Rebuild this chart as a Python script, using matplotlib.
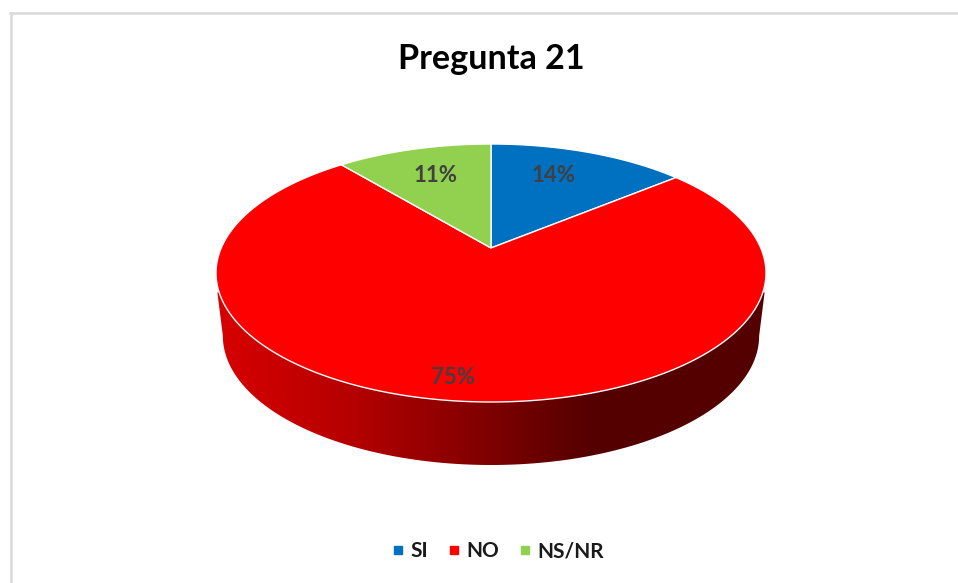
import numpy as np
import matplotlib
matplotlib.use("Agg")
import matplotlib.pyplot as plt
from matplotlib.colors import LinearSegmentedColormap
from matplotlib.lines import Line2D
from matplotlib.patches import Polygon

categories = ["SI", "NO", "NS/NR"]
values = [14, 75, 11]
colors = ["#0070C0", "#FF0000", "#92D050"]
title = "Pregunta 21"

W, H = 958, 583
# pixel layout of the pie top
LEFT, RIGHT, TOP, BOTTOM = 216, 766, 144, 402
TILT = 0.194        # perspective shift of the centre
DEPTH = 63 / 129    # wall height in axes units
SHRINK = 0.975      # bottom rim is a bit narrower
YMIN = -1.6         # axes run on below the top so the wall fits
LABEL_POS = [(554, 176), (453, 378), (436, 176)]

plt.rcParams['font.family'] = ['Lato', 'DejaVu Sans']


def warp(x, y):
    # perspective map of the unit disc onto itself
    d = 1 + TILT * y
    return x * np.sqrt(1 - TILT ** 2) / d, (y + TILT) / d


fig = plt.figure(figsize=(W / 100, H / 100), dpi=100)
unit = (BOTTOM - TOP) / 2
ax = fig.add_axes([LEFT / W, 1 - (BOTTOM + (-1 - YMIN) * unit) / H,
                   (RIGHT - LEFT) / W, (BOTTOM - TOP + (-1 - YMIN) * unit) / H])
wedges, _ = ax.pie(values, colors=colors, startangle=90, counterclock=False, radius=1)
ax.set_aspect('auto')

# side wall, gradient clipped to the rim
t = np.linspace(np.pi, 2 * np.pi, 300)
xr = SHRINK * np.cos(t)
yr = np.sin(t) - DEPTH
wall = np.column_stack([np.r_[-0.995, xr, 0.995], np.r_[-0.15, yr, -0.15]])
clip = Polygon(wall, transform=ax.transData, fc='none', ec='none')
ax.add_patch(clip)
cmap = LinearSegmentedColormap.from_list('wall', [
    (0.0, '#D80000'), (0.25, '#B40000'), (0.5, '#7E0000'),
    (0.68, '#550000'), (1.0, '#550000')])
im = ax.imshow(np.linspace(0, 1, 256)[None, :], cmap=cmap, extent=(-1, 1, YMIN, 0),
               aspect='auto', zorder=1)
im.set_clip_path(clip)
ax.set_xlim(-1, 1)
ax.set_ylim(YMIN, 1)

# redraw the wedges through the perspective map
for w, c in zip(wedges, colors):
    th = np.radians(np.linspace(w.theta1, w.theta2, 200))
    px, py = warp(w.r * np.cos(th), w.r * np.sin(th))
    cx, cy = warp(0.0, 0.0)
    w.set_visible(False)
    ax.add_patch(Polygon(np.column_stack([np.r_[cx, px], np.r_[cy, py]]), closed=True,
                         fc=c, ec='white', lw=1.0, zorder=2, clip_on=False))

for v, (lx, ly) in zip(values, LABEL_POS):
    fig.text(lx / W, 1 - ly / H, f"{v}%", color='#404040', fontsize=16, fontweight='bold',
             ha='center', va='center')

fig.text(491 / W, 1 - 59 / H, title, color='black', fontsize=24.6, fontweight='bold',
         ha='center', va='center')

handles = [Line2D([], [], ls='none', marker='s', ms=5.2, mfc=c, mec=c) for c in colors]
fig.legend(handles, categories, loc='center', bbox_to_anchor=(498 / W, 1 - 551 / H), ncol=3,
           frameon=False, handlelength=0.6, handletextpad=0.3,
           columnspacing=0.95, prop={'weight': 'bold', 'size': 15}, labelcolor='#1a1a1a')

# chart frame: only the top and left edges are in the crop
fig.add_artist(Line2D([11 / W, 11 / W], [0, 1 - 13 / H], color='#D9D9D9', lw=1.8))
fig.add_artist(Line2D([10 / W, 1], [1 - 13 / H, 1 - 13 / H], color='#D9D9D9', lw=1.8))

fig.savefig('out.png', dpi=100)
